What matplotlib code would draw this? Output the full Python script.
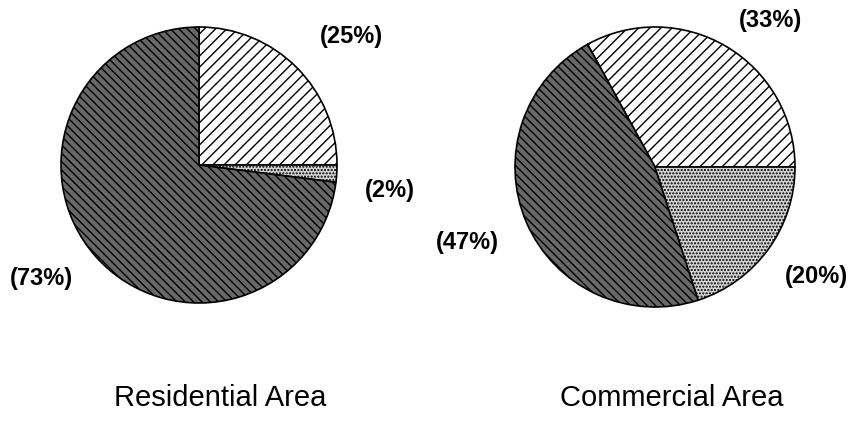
import matplotlib.pyplot as plt

plt.rcParams['font.family'] = ['Liberation Sans', 'DejaVu Sans']
plt.rcParams['hatch.linewidth'] = 1.0

# slice values (percent) for the two areas
res_values = [25, 2, 73]          # hatched, light, dark
res_labels = ['(25%)', '(2%)', '(73%)']
com_values = [33, 47, 20]         # hatched, dark, light
com_labels = ['(33%)', '(47%)', '(20%)']
titles = ['Residential Area', 'Commercial Area']

W, H = 857, 422
fig = plt.figure(figsize=(W / 100, H / 100), dpi=100)
ax = fig.add_axes([0, 0, 1, 1])

hatched = dict(facecolor='white', hatch='///')
light = dict(facecolor='#d2d2d2', hatch='.....')
dark = dict(facecolor='#686868', hatch='\\\\\\\\')

# left pie: clockwise from 12 o'clock
w1, _ = ax.pie(res_values, center=(199, H - 165), radius=138, startangle=90,
               counterclock=False, frame=True,
               wedgeprops=dict(edgecolor='black', linewidth=1.2))
for w, st in zip(w1, [hatched, light, dark]):
    w.set_facecolor(st['facecolor'])
    w.set_hatch(st['hatch'])

# right pie: counter-clockwise from 3 o'clock
w2, _ = ax.pie(com_values, center=(655, H - 167), radius=140, startangle=0,
               counterclock=True, frame=True,
               wedgeprops=dict(edgecolor='black', linewidth=1.2))
for w, st in zip(w2, [hatched, dark, light]):
    w.set_facecolor(st['facecolor'])
    w.set_hatch(st['hatch'])

lab_kw = dict(fontsize=17, fontweight='bold', ha='center', va='center')
for txt, (x, y) in zip(res_labels, [(351, 36), (390, 191), (41, 279)]):
    ax.text(x, H - y, txt, **lab_kw)
for txt, (x, y) in zip(com_labels, [(771, 20), (467, 242), (816, 276)]):
    ax.text(x, H - y, txt, **lab_kw)

for txt, x in zip(titles, [220, 672]):
    ax.text(x, H - 398, txt, fontsize=21, ha='center', va='center')

ax.set_xlim(0, W)
ax.set_ylim(0, H)
ax.set_aspect('equal')
ax.axis('off')

plt.savefig('out.png', dpi=100)
